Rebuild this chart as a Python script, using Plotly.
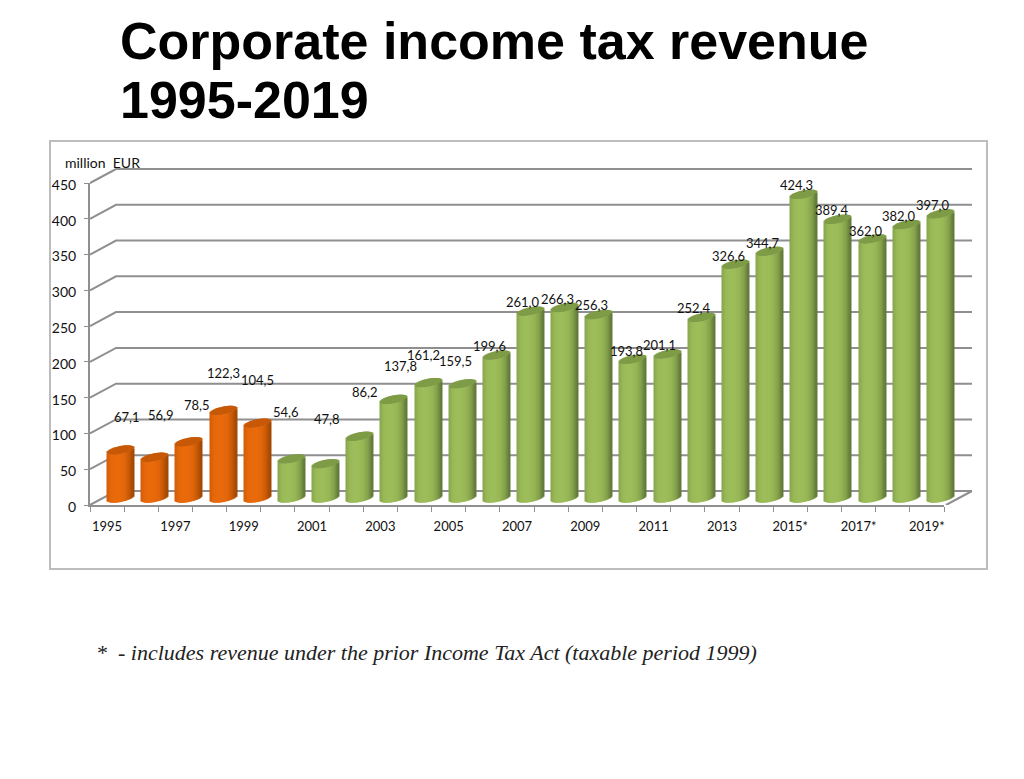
import numpy as np
import plotly.graph_objects as go

# Data
years = ['1995', '1996', '1997', '1998', '1999', '2000', '2001', '2002', '2003', '2004', '2005', '2006',
         '2007', '2008', '2009', '2010', '2011', '2012', '2013', '2014', '2015*', '2016*', '2017*', '2018*', '2019*']
revenue = [67.1, 56.9, 78.5, 122.3, 104.5, 54.6, 47.8, 86.2, 137.8, 161.2, 159.5, 199.6,
           261.0, 266.3, 256.3, 193.8, 201.1, 252.4, 326.6, 344.7, 424.3, 389.4, 362.0, 382.0, 397.0]
n_orange = 5
y_ticks = [0, 50, 100, 150, 200, 250, 300, 350, 400, 450]

# The reference places its data labels by hand, so each one gets a nudge in pixels
label_dx = [6, 6, 8, 0, 0, -5, 1, 5, 7, -5, -7, -7, -8, -7, -7, -6, -8, -7, -7, -7, -7, -6, -6, -7, -7]
label_dy = [33, 42, 37, 37, 43, 47, 45, 44, 33, 28, 23, 9, 9, 8, 10, 8, 9, 9, 8, 8, 9, 9, 8, 9, 9]

# Cylinder shading, left to right
orange_shade = ['#D35C08', '#E5680A', '#EA6C0C', '#E86A0B', '#E2660A', '#C85A07', '#9E4704']
green_shade = ['#86A44C', '#9ABA58', '#9EBE5C', '#9CBC5A', '#96B555', '#84A14A', '#5F7638']
orange_cap = '#C65806'
green_cap = '#7E9B47'

# The page body keeps its 8px margin, so the figure is 16px smaller than the window
PAGE = 8
W, H = 1024 - 2 * PAGE, 779 - 2 * PAGE
GRID = '#8F8F8F'
TEXT = '#111111'
FONT = 'Lato'


# Window pixels to paper coordinates
def px(a):
    return (a - PAGE) / W


def py(a):
    return 1 - (a - PAGE) / H


def shade(stops, u):
    pos = np.linspace(-1, 1, len(stops))
    rgb = np.array([[int(s[i:i + 2], 16) for i in (1, 3, 5)] for s in stops])
    return 'rgb(%d,%d,%d)' % tuple(np.interp(u, pos, rgb[:, k]) for k in range(3))


px_per_val = (505 - 183) / 450
bar_px = 27
cat_px = (944 - 90) / 25
back_cat_px = (972 - 116) / 25
depth_x = 26 / back_cat_px
depth_y = 14 / px_per_val
below_zero = 20
headroom = 10

fig = go.Figure()

# Walls: each gridline runs from the front axis to the back wall and along it
for v in y_ticks:
    fig.add_trace(go.Scatter(x=[-0.5 - depth_x, -0.5, 24.5], y=[v - depth_y, v, v], mode='lines',
                             line=dict(color=GRID, width=2), cliponaxis=False,
                             hoverinfo='skip', showlegend=False))
fig.add_trace(go.Scatter(x=[24.5, 24.5 - depth_x], y=[0, -depth_y], mode='lines',
                         line=dict(color=GRID, width=2), cliponaxis=False,
                         hoverinfo='skip', showlegend=False))

# Front plane only carries the axes
fig.add_trace(go.Scatter(x=years, y=revenue, mode='markers', marker=dict(opacity=0), xaxis='x2', yaxis='y2',
                         hoverinfo='skip', showlegend=False))

# Cylinders are thin overlapping bars, one trace per vertical strip
idx = np.arange(len(years))
vals = np.array(revenue)
n_strips = 27
strip = 2 / n_strips
half = bar_px / cat_px / 2
semi = 4 / px_per_val
tilt = 2.5 / px_per_val
for k in range(n_strips):
    u = -1 + strip * (k + 0.5)
    low = tilt * u - semi * np.sqrt(1 - u ** 2)
    high = tilt * u + semi * np.sqrt(1 - u ** 2)
    off = (u - strip / 2) * half
    wid = strip * half * (1.5 if k < n_strips - 1 else 1)
    colors = [shade(orange_shade if i < n_orange else green_shade, u) for i in idx]
    caps = [orange_cap if i < n_orange else green_cap for i in idx]
    fig.add_trace(go.Bar(x=idx, y=vals, base=np.full(len(idx), low), width=wid, offset=off,
                         marker=dict(color=colors, line=dict(width=0)), xaxis='x3', yaxis='y3',
                         cliponaxis=False, hoverinfo='skip', showlegend=False))
    fig.add_trace(go.Bar(x=idx, y=np.full(len(idx), high - low), base=vals + low, width=wid, offset=off,
                         marker=dict(color=caps, line=dict(width=0)), xaxis='x3', yaxis='y3',
                         cliponaxis=False, hoverinfo='skip', showlegend=False))

# Data labels
annotations = []
for i, v in enumerate(revenue):
    annotations.append(dict(x=i, y=v, xref='x3', yref='y3', text=f'{v:.1f}'.replace('.', ','),
                            showarrow=False, xshift=label_dx[i], yshift=label_dy[i],
                            font=dict(family=FONT, size=13, color=TEXT)))

annotations.append(dict(x=px(102), y=py(162), xref='paper', yref='paper', xanchor='center', yanchor='middle',
                        text='million  EUR', showarrow=False, font=dict(family=FONT, size=14, color=TEXT)))
annotations.append(dict(x=px(94), y=py(652), xref='paper', yref='paper', xanchor='left', yanchor='middle',
                        text='<i>*  - includes revenue under the prior Income Tax Act (taxable period 1999)</i>',
                        showarrow=False, font=dict(family='Liberation Serif', size=22, color='#222222')))

# The title's two lines sit closer than a <br> would put them
for line, y in (('Corporate income tax revenue', 41), ('1995-2019', 100)):
    annotations.append(dict(x=px(118), y=py(y), xref='paper', yref='paper', xanchor='left', yanchor='middle',
                            text=f'<b>{line}</b>', showarrow=False,
                            font=dict(family='Liberation Sans', size=52, color='black')))

fig.update_layout(
    width=W,
    height=H,
    margin=dict(l=0, r=0, t=0, b=0),
    paper_bgcolor='white',
    plot_bgcolor='rgba(0,0,0,0)',
    barmode='overlay',
    showlegend=False,
    xaxis=dict(domain=[px(90), px(972)], range=[-0.5 - depth_x, 24.5], visible=False, anchor='y'),
    yaxis=dict(domain=[py(505), py(169 - headroom * px_per_val)], range=[-depth_y, 450 + headroom],
               visible=False, anchor='x'),
    xaxis2=dict(domain=[px(90), px(944)], type='category', categoryorder='array', categoryarray=years,
                range=[-0.5, 24.5], tickson='boundaries', ticklabelstep=2, tickangle=0,
                ticks='outside', ticklen=5, tickwidth=1, tickcolor=GRID, showgrid=False,
                showline=True, linecolor=GRID, linewidth=2, ticklabelstandoff=8,
                tickfont=dict(family=FONT, size=13, color=TEXT), anchor='y2'),
    yaxis2=dict(domain=[py(505), py(183)], range=[0, 450], tickvals=y_ticks, ticks='outside', ticklen=4,
                tickwidth=1, tickcolor=GRID, showgrid=False, zeroline=False,
                showline=True, linecolor=GRID, linewidth=2, ticklabelstandoff=5, ticklabelshift=2,
                tickfont=dict(family=FONT, size=14, color=TEXT), anchor='x2'),
    xaxis3=dict(domain=[px(103.5), px(957.5)], range=[-0.5, 24.5], visible=False, anchor='y3'),
    yaxis3=dict(domain=[py(498 + below_zero * px_per_val), py(176)], range=[-below_zero, 450], visible=False, anchor='x3'),
    shapes=[dict(type='rect', xref='paper', yref='paper', x0=px(50), x1=px(987), y0=py(569), y1=py(141),
                 line=dict(color='#BDBDBD', width=2), layer='below')],
    annotations=annotations,
)
fig.update_xaxes(automargin=False)
fig.update_yaxes(automargin=False)

fig.write_html("out.html")
